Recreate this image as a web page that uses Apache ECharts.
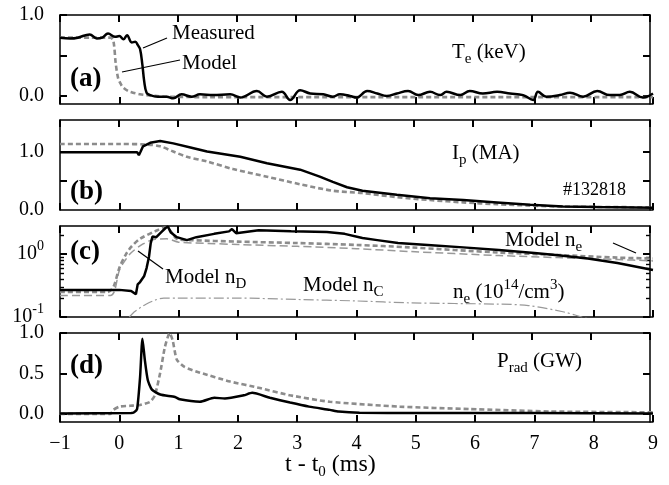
<!DOCTYPE html>
<html>
<head>
<meta charset="utf-8">
<script src="https://cdn.jsdelivr.net/npm/echarts@6/dist/echarts.min.js"></script>
<style>
html, body { margin: 0; padding: 0; background: #fff; }
#grafico { width: 669px; height: 485px; }
</style>
</head>
<body>
<div id="grafico"></div>
<script>
const FONT = '"Liberation Serif", "DejaVu Serif", serif';

// (a) Te (keV)
const teMeasT = [-1, -0.83, -0.7, -0.5, -0.38, -0.29, -0.19, -0.07, 0.0, 0.07, 0.13, 0.21, 0.27, 0.31, 0.35, 0.39, 0.42, 0.46, 0.52, 0.65, 0.8, 0.91, 1.05, 1.22, 1.36, 1.58, 1.87, 2.04, 2.32, 2.49, 2.74, 2.88, 3.05, 3.22, 3.44, 3.6, 3.72, 3.89, 4.0, 4.18, 4.35, 4.51, 4.68, 4.87, 5.04, 5.24, 5.41, 5.52, 5.75, 5.91, 6.13, 6.37, 6.59, 6.81, 6.98, 7.06, 7.2, 7.43, 7.6, 7.82, 8.06, 8.27, 8.44, 8.61, 8.83, 9];
const teMeasV = [0.72, 0.71, 0.72, 0.76, 0.71, 0.72, 0.77, 0.73, 0.74, 0.7, 0.75, 0.66, 0.67, 0.63, 0.58, 0.38, 0.18, 0.04, 0.01, -0.01, -0.01, -0.03, 0.02, -0.01, 0.02, 0.01, 0.02, -0.02, 0.06, -0.01, 0.05, -0.05, 0.07, 0.03, 0.02, -0.01, 0.02, 0.0, -0.02, 0.06, 0.03, 0.0, 0.03, 0.06, 0.01, 0.05, 0.01, 0.05, 0.01, 0.06, 0.03, 0.05, 0.03, 0.01, -0.05, 0.05, -0.01, 0.01, 0.04, -0.01, 0.06, 0.01, 0.01, 0.05, -0.02, 0.03];
const teModelT = [-1, -0.5, -0.15, -0.1, -0.06, -0.02, 0.03, 0.07, 0.15, 0.23, 0.35, 0.46, 0.6, 0.8, 1.5, 3, 5, 7, 9];
const teModelV = [0.72, 0.72, 0.72, 0.68, 0.4, 0.22, 0.14, 0.1, 0.06, 0.04, 0.02, 0.01, 0.0, -0.01, -0.015, -0.015, -0.015, -0.015, -0.015];

// (b) Ip (MA)
const ipMeasT = [-1, -0.5, 0, 0.2, 0.3, 0.33, 0.36, 0.4, 0.52, 0.69, 0.91, 1.2, 1.48, 2.04, 2.49, 3.05, 3.38, 3.6, 3.84, 4.1, 4.68, 5.24, 5.8, 6.37, 6.93, 7.48, 8.05, 9];
const ipMeasV = [0.99, 0.99, 0.99, 0.99, 0.99, 0.94, 1.0, 1.09, 1.15, 1.18, 1.14, 1.07, 1.0, 0.91, 0.8, 0.69, 0.57, 0.48, 0.39, 0.33, 0.26, 0.2, 0.17, 0.13, 0.09, 0.06, 0.05, 0.04];
const ipModelT = [-1, 0, 0.46, 0.69, 0.91, 1.14, 1.48, 1.92, 2.49, 3.05, 3.6, 4.1, 4.68, 5.24, 5.8, 6.37, 6.93, 7.48, 9];
const ipModelV = [1.13, 1.13, 1.12, 1.09, 1.0, 0.91, 0.83, 0.7, 0.57, 0.44, 0.33, 0.29, 0.22, 0.17, 0.13, 0.1, 0.075, 0.06, 0.045];

// (c) ne (10^14/cm^3), escala log
const neMeasT = [-1, -0.5, 0, 0.2, 0.28, 0.31, 0.35, 0.42, 0.46, 0.5, 0.53, 0.56, 0.62, 0.7, 0.78, 0.82, 0.87, 0.97, 1.14, 1.3, 1.6, 1.85, 1.9, 1.97, 2.35, 2.9, 3.5, 3.8, 4.1, 4.35, 4.7, 5.2, 5.8, 6.4, 7.0, 7.4, 7.9, 8.4, 9];
const neMeasV = [0.27, 0.27, 0.27, 0.26, 0.23, 0.33, 0.36, 0.45, 0.6, 0.9, 1.5, 1.9, 1.85, 2.2, 2.6, 2.75, 2.2, 1.86, 1.67, 1.86, 2.1, 2.3, 2.5, 2.15, 2.4, 2.3, 2.25, 2.1, 1.8, 1.67, 1.5, 1.4, 1.28, 1.16, 1.04, 0.96, 0.85, 0.72, 0.56];
const neModelT = [-1, -0.2, -0.1, 0.0, 0.1, 0.2, 0.35, 0.6, 0.78, 0.87, 0.97, 1.2, 2.0, 3.0, 4.0, 4.9, 6.4, 7.4, 8.4, 9];
const neModelV = [0.25, 0.25, 0.3, 0.6, 0.95, 1.3, 1.75, 2.3, 2.65, 2.3, 1.75, 1.67, 1.58, 1.5, 1.4, 1.28, 1.06, 0.97, 0.88, 0.85];
const nDModelT = [-1, -0.15, -0.08, 0.0, 0.1, 0.2, 0.4, 0.6, 0.8, 1.0, 1.5, 2.0, 3.0, 4.0, 4.9, 6.4, 7.4, 8.4, 9];
const nDModelV = [0.22, 0.22, 0.26, 0.55, 0.8, 1.05, 1.45, 1.72, 1.75, 1.55, 1.48, 1.42, 1.33, 1.22, 1.1, 0.95, 0.88, 0.82, 0.78];
const nCModelT = [0.17, 0.25, 0.35, 0.45, 0.6, 0.75, 1.0, 2.0, 3.0, 4.0, 4.9, 6.4, 6.9, 7.5, 7.8, 8.0];
const nCModelV = [0.1, 0.12, 0.14, 0.16, 0.185, 0.2, 0.2, 0.2, 0.19, 0.18, 0.168, 0.16, 0.152, 0.12, 0.1, 0.09];

// (d) Prad (GW)
const prMeasT = [-1, 0.2, 0.25, 0.3, 0.35, 0.39, 0.43, 0.48, 0.55, 0.69, 0.94, 1.02, 1.36, 1.6, 1.78, 2.1, 2.24, 2.54, 2.88, 3.2, 3.55, 3.7, 4.05, 5, 7, 9];
const prMeasV = [0.005, 0.01, 0.02, 0.06, 0.45, 0.93, 0.67, 0.42, 0.3, 0.24, 0.21, 0.18, 0.15, 0.2, 0.19, 0.23, 0.26, 0.2, 0.14, 0.09, 0.05, 0.03, 0.015, 0.01, 0.01, 0.005];
const prModelT = [-1, -0.15, -0.1, 0.0, 0.18, 0.35, 0.52, 0.6, 0.69, 0.77, 0.85, 0.9, 0.97, 1.1, 1.36, 1.87, 2.37, 2.88, 3.55, 4.73, 5.9, 7.26, 9];
const prModelV = [0.0, 0.0, 0.05, 0.09, 0.1, 0.11, 0.15, 0.23, 0.51, 0.83, 1.0, 0.91, 0.67, 0.58, 0.51, 0.4, 0.32, 0.23, 0.15, 0.09, 0.06, 0.03, 0.02];

// ticks e rótulos dos eixos
const yTicksA = [0, 0.5, 1.0], yLabelsA = [0, 1.0];
const yTicksB = [0.5, 1.0], yLabelsB = [0, 1.0];
const yTicksC = [0.1, 1], yLabelsC = [0.1, 1], yMinorC = [0.2, 0.3, 0.4, 0.5, 0.6, 0.7, 0.8, 0.9, 2];
const yTicksD = [0, 0.5, 1.0], yLabelsD = [0, 0.5, 1.0];

const zip = (t, v) => t.map((x, i) => [x, v[i]]);

const paineis = [
	{ top: 15, height: 89, min: -0.1, max: 1.0, ticks: yTicksA, labels: yLabelsA },
	{ top: 120, height: 90, min: 0, max: 1.54, ticks: yTicksB, labels: yLabelsB },
	{ top: 226, height: 91, min: 0.1, max: 2.8, ticks: yTicksC, labels: yLabelsC, log: true },
	{ top: 333, height: 89, min: -0.1, max: 1.0, ticks: yTicksD, labels: yLabelsD }
];

const txt = { color: '#000', fontFamily: FONT, fontSize: 20 };
const vazio = () => '';

// cada painel: grade principal (baixo/esquerda) + grade espelho (cima/direita) no mesmo retângulo
const grids = [], xAxes = [], yAxes = [], eixos = [];
paineis.forEach((p, i) => {
	const base = p.log ? { type: 'log', logBase: 10 } : { type: 'value' };
	const caixa = { left: 60, right: 16, top: p.top, height: p.height };
	const camadas = [
		{ lado: 'principal', ticks: p.ticks, len: 7, linha: true },
		{ lado: 'espelho', ticks: p.ticks, len: 7, linha: true }
	];
	if (p.log) {
		camadas.push({ lado: 'principal', ticks: yMinorC, len: 4, linha: false, menor: true });
		camadas.push({ lado: 'espelho', ticks: yMinorC, len: 4, linha: false, menor: true });
	}
	camadas.forEach((c, k) => {
		const g = grids.length;
		grids.push(Object.assign({}, caixa));
		const espelho = c.lado === 'espelho';
		const xAx = {
			gridIndex: g, type: 'value', min: -1, max: 9, interval: 1,
			axisLine: { show: c.linha, onZero: false, lineStyle: { color: '#000', width: 1.5 } },
			splitLine: { show: false },
			axisTick: { show: !c.menor, inside: true, length: 7, lineStyle: { color: '#000', width: 2 } },
			axisLabel: Object.assign({ margin: 12,
				formatter: (i === 3 && !espelho && !c.menor) ? (v => (v < 0 ? '\u2212' + (-v) : String(v))) : vazio }, txt)
		};
		const yAx = Object.assign({
			gridIndex: g, min: p.min, max: p.max,
			axisLine: { show: c.linha, onZero: false, lineStyle: { color: '#000', width: 1.5 } },
			splitLine: { show: false },
			axisTick: { show: true, inside: true, length: c.len, customValues: c.ticks,
				lineStyle: { color: '#000', width: c.menor ? 1.4 : 2 } },
			axisLabel: Object.assign({ margin: 16, customValues: p.labels,
				formatter: (espelho || c.menor) ? vazio :
					(p.log ? (v => (v >= 1 ? '10{sup|0}' : '10{sup|-1}')) : (v => v.toFixed(1))),
				rich: { sup: { fontFamily: FONT, fontSize: 14, color: '#000', padding: [0, 0, 16, 0] } } }, txt)
		}, base);
		if (espelho) {
			xAx.position = 'top';
			yAx.position = 'right';
		}
		if (k === 0) eixos.push({ x: xAxes.length, y: yAxes.length });
		xAxes.push(xAx);
		yAxes.push(yAx);
	});
});

function linha(dados, painel, estilo, smooth) {
	return {
		type: 'line', data: dados, xAxisIndex: eixos[painel].x, yAxisIndex: eixos[painel].y,
		showSymbol: false, smooth: smooth || false, lineStyle: estilo, animation: false
	};
}

const preto = { color: '#000', width: 2.5 };
const cinza = { color: '#8c8c8c', width: 2.6, type: [5, 3] };
const cinzaFino = { color: '#999', width: 1.5, type: [8, 4] };
const tracoPonto = { color: '#999', width: 1.2, type: [10, 3, 2, 3] };

const rotSub = { sub: { fontFamily: FONT, fontSize: 15, fill: '#000', padding: [14, 0, 0, 0] },
	sup: { fontFamily: FONT, fontSize: 15, fill: '#000', padding: [0, 0, 14, 0] } };

function texto(x, y, s, size, bold) {
	return { type: 'text', x: x, y: y, z: 100, style: {
		text: s, fontFamily: FONT, fontSize: size || 21, fontWeight: bold ? 'bold' : 'normal',
		fill: '#000', align: 'left', verticalAlign: 'middle', rich: rotSub } };
}
function traco(x1, y1, x2, y2) {
	return { type: 'line', z: 100, shape: { x1: x1, y1: y1, x2: x2, y2: y2 }, style: { stroke: '#000', lineWidth: 1.2 } };
}

const option = {
	animation: false,
	backgroundColor: '#fff',
	grid: grids,
	xAxis: xAxes,
	yAxis: yAxes,
	series: [
		linha(zip(teModelT, teModelV), 0, cinza, 0.3),
		linha(zip(teMeasT, teMeasV), 0, preto, 0.4),
		linha(zip(ipModelT, ipModelV), 1, cinza, 0.3),
		linha(zip(ipMeasT, ipMeasV), 1, preto),
		linha(zip(nCModelT, nCModelV), 2, tracoPonto, 0.3),
		linha(zip(nDModelT, nDModelV), 2, cinzaFino, 0.3),
		linha(zip(neModelT, neModelV), 2, cinza, 0.3),
		linha(zip(neMeasT, neMeasV), 2, preto),
		linha(zip(prModelT, prModelV), 3, cinza, 0.2),
		linha(zip(prMeasT, prMeasV), 3, preto, 0.2)
	],
	graphic: [
		texto(172, 33, 'Measured'),
		texto(182, 63, 'Model'),
		traco(143, 48, 167, 38),
		traco(122, 72, 180, 60),
		texto(452, 52, 'T{sub|e} (keV)'),
		texto(70, 79, '(a)', 27, true),
		texto(452, 153, 'I{sub|p} (MA)'),
		texto(563, 190, '#132818', 18),
		texto(70, 192, '(b)', 27, true),
		texto(70, 252, '(c)', 27, true),
		texto(165, 277, 'Model n{sub|D}'),
		traco(138, 251, 163, 269),
		texto(303, 285, 'Model n{sub|C}'),
		texto(453, 292, 'n{sub|e} (10{sup|14}/cm{sup|3})'),
		texto(505, 240, 'Model n{sub|e}'),
		traco(613, 243, 636, 253),
		texto(70, 366, '(d)', 27, true),
		texto(497, 361, 'P{sub|rad} (GW)'),
		texto(285, 465, 't - t{sub|0} (ms)', 24)
	]
};

const grafico = echarts.init(document.getElementById('grafico'));
grafico.setOption(option);
</script>
</body>
</html>
